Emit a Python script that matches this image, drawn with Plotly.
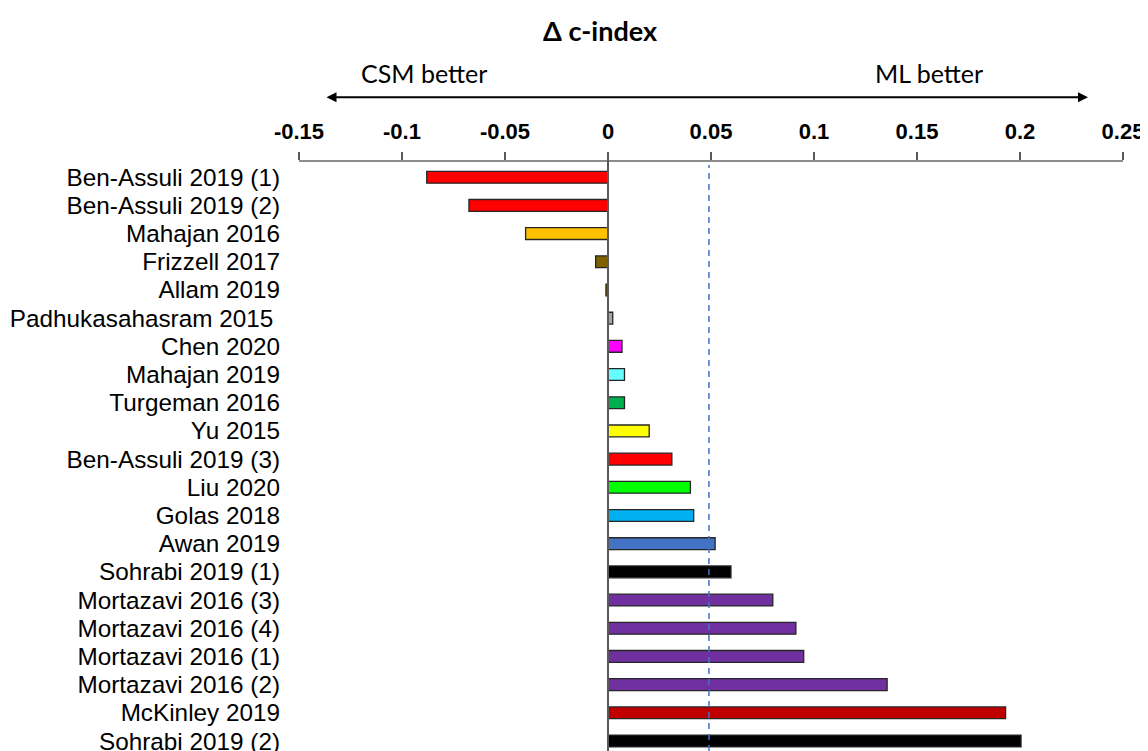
import plotly.graph_objects as go

studies = [
    "Ben-Assuli 2019 (1)", "Ben-Assuli 2019 (2)", "Mahajan 2016", "Frizzell 2017",
    "Allam 2019", "Padhukasahasram 2015 ", "Chen 2020", "Mahajan 2019",
    "Turgeman 2016", "Yu 2015", "Ben-Assuli 2019 (3)", "Liu 2020", "Golas 2018",
    "Awan 2019", "Sohrabi 2019 (1)", "Mortazavi 2016 (3)", "Mortazavi 2016 (4)",
    "Mortazavi 2016 (1)", "Mortazavi 2016 (2)", "McKinley 2019", "Sohrabi 2019 (2)",
]
delta_c = [
    -0.088, -0.0675, -0.040, -0.006, -0.001, 0.0023, 0.0068, 0.008,
    0.008, 0.020, 0.031, 0.040, 0.0416, 0.052, 0.0597, 0.080, 0.0912,
    0.095, 0.1355, 0.193, 0.2005,
]
bar_colors = [
    "#FF0000", "#FF0000", "#FFC000", "#7F6000", "#7F6000", "#A5A5A5", "#FF00FF",
    "#66FFFF", "#00B050", "#FFFF00", "#FF0000", "#00FF00", "#00B0F0", "#4472C4",
    "#000000", "#7030A0", "#7030A0", "#7030A0", "#7030A0", "#C00000", "#000000",
]
x_ticks = [-0.15, -0.1, -0.05, 0, 0.05, 0.1, 0.15, 0.2, 0.25]
x_ticktext = ["-0.15", "-0.1", "-0.05", "0", "0.05", "0.1", "0.15", "0.2", "0.25"]
ref_line = 0.049

fig = go.Figure()
fig.add_trace(go.Bar(
    x=delta_c, y=studies, orientation="h",
    marker=dict(color=bar_colors, line=dict(color="#262626", width=1.3)),
    width=0.42,
))

fig.update_layout(
    width=1140, height=743,
    margin=dict(l=291, r=25, t=154, b=0),
    plot_bgcolor="white", paper_bgcolor="white",
    showlegend=False,
    xaxis=dict(
        side="top", range=[-0.15, 0.25], tickvals=x_ticks, ticktext=x_ticktext,
        automargin=False,
        showgrid=False, zeroline=False, showline=True, linecolor="#8C8C8C", linewidth=1.5,
        ticks="outside", ticklen=8, tickwidth=1.5, tickcolor="#595959",
        ticklabelstandoff=4,
        tickfont=dict(family="Arial, Liberation Sans", size=22, color="black", weight="bold"),
    ),
    yaxis=dict(
        categoryorder="array", categoryarray=studies, automargin=False,
        tickmode="array", tickvals=studies, ticktext=studies,
        range=[20.355, -0.54], showgrid=False, zeroline=False, showline=False,
        ticks="", ticklabelstandoff=18,
        tickfont=dict(family="Arial, Liberation Sans", size=24.3, color="black"),
    ),
    shapes=[
        dict(type="line", xref="x", yref="paper", x0=0, x1=0, y0=0, y1=1.013,
             line=dict(color="#595959", width=2)),
        dict(type="line", xref="x", yref="paper", x0=ref_line, x1=ref_line, y0=0, y1=0.995,
             line=dict(color="#4472C4", width=1.5, dash="6px,5px")),
    ],
    annotations=[
        dict(text="<b>Δ c-index</b>", xref="x", yref="paper", x=-0.0036, y=1.224,
             xanchor="center", yanchor="middle",
             showarrow=False, font=dict(family="Lato", size=27, color="black")),
        dict(text="CSM better", xref="x", yref="paper", x=-0.0893, y=1.151,
             xanchor="center", yanchor="middle",
             showarrow=False, font=dict(family="Lato", size=25, color="black")),
        dict(text="ML better", xref="x", yref="paper", x=0.1556, y=1.151,
             xanchor="center", yanchor="middle",
             showarrow=False, font=dict(family="Lato", size=25, color="black")),
        dict(text="", xref="x", yref="paper", x=0.233, y=1.110,
             ax=-763, ay=0, axref="pixel", ayref="pixel",
             showarrow=True, arrowhead=2, startarrowhead=2, arrowside="end+start",
             arrowwidth=2, arrowsize=1, startarrowsize=1, arrowcolor="black"),
    ],
)

fig.write_html("out.html")
